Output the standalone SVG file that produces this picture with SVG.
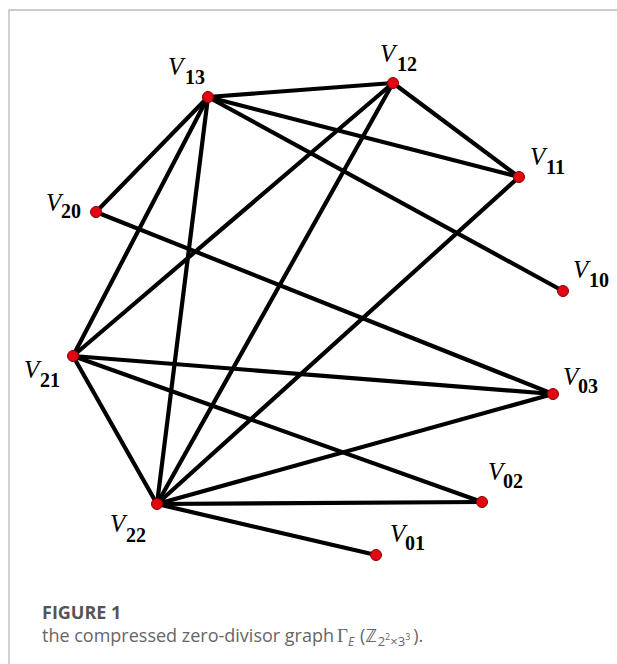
<svg xmlns="http://www.w3.org/2000/svg" width="617" height="664" viewBox="0 0 617 664">
<style>
.edge{stroke:#000;stroke-width:4.2;stroke-linecap:round;fill:none}
.node{fill:#e30613;stroke:#8a0000;stroke-width:1}
.v{font-family:"Liberation Serif","DejaVu Serif",serif;font-style:italic;font-size:25px;fill:#000}
.s{font-family:"Liberation Serif","DejaVu Serif",serif;font-weight:bold;font-style:normal;font-size:20px;fill:#000}
.cap{font-family:"Open Sans","Noto Sans",sans-serif;font-size:18px;fill:#666}
.capb{font-family:"Open Sans","Noto Sans",sans-serif;font-size:18px;font-weight:bold;fill:#555}
</style>
<rect width="617" height="664" fill="#fff"/>
<path d="M9 664 V10 H617" fill="none" stroke="#bbb" stroke-width="1.3"/>
<g id="edges">
<line class="edge" x1="208" y1="97" x2="393" y2="83"/>
<line class="edge" x1="208" y1="97" x2="519" y2="177"/>
<line class="edge" x1="208" y1="97" x2="563" y2="291"/>
<line class="edge" x1="208" y1="97" x2="96" y2="212"/>
<line class="edge" x1="208" y1="97" x2="73" y2="356"/>
<line class="edge" x1="208" y1="97" x2="157" y2="504"/>
<line class="edge" x1="393" y1="83" x2="519" y2="177"/>
<line class="edge" x1="393" y1="83" x2="73" y2="356"/>
<line class="edge" x1="393" y1="83" x2="157" y2="504"/>
<line class="edge" x1="519" y1="177" x2="157" y2="504"/>
<line class="edge" x1="96" y1="212" x2="553" y2="394"/>
<line class="edge" x1="73" y1="356" x2="553" y2="394"/>
<line class="edge" x1="73" y1="356" x2="482" y2="502"/>
<line class="edge" x1="73" y1="356" x2="157" y2="504"/>
<line class="edge" x1="157" y1="504" x2="553" y2="394"/>
<line class="edge" x1="157" y1="504" x2="482" y2="502"/>
<line class="edge" x1="157" y1="504" x2="376" y2="555"/>
</g>
<g id="V13"><circle class="node" cx="208" cy="97" r="5.5"/><text><tspan class="v" x="168" y="75">V</tspan><tspan class="s" x="185" y="84">13</tspan></text></g>
<g id="V12"><circle class="node" cx="393" cy="83" r="5.5"/><text><tspan class="v" x="380" y="62">V</tspan><tspan class="s" x="397" y="71">12</tspan></text></g>
<g id="V11"><circle class="node" cx="519" cy="177" r="5.5"/><text><tspan class="v" x="530" y="165">V</tspan><tspan class="s" x="546" y="174">11</tspan></text></g>
<g id="V10"><circle class="node" cx="563" cy="291" r="5.5"/><text><tspan class="v" x="573" y="278">V</tspan><tspan class="s" x="589" y="287">10</tspan></text></g>
<g id="V20"><circle class="node" cx="96" cy="212" r="5.5"/><text><tspan class="v" x="46" y="211">V</tspan><tspan class="s" x="61" y="218">20</tspan></text></g>
<g id="V21"><circle class="node" cx="73" cy="356" r="5.5"/><text><tspan class="v" x="24" y="378">V</tspan><tspan class="s" x="40" y="387">21</tspan></text></g>
<g id="V03"><circle class="node" cx="553" cy="394" r="5.5"/><text><tspan class="v" x="563" y="385">V</tspan><tspan class="s" x="578" y="393">03</tspan></text></g>
<g id="V02"><circle class="node" cx="482" cy="502" r="5.5"/><text><tspan class="v" x="488" y="480">V</tspan><tspan class="s" x="503" y="488">02</tspan></text></g>
<g id="V22"><circle class="node" cx="157" cy="504" r="5.5"/><text><tspan class="v" x="110" y="532">V</tspan><tspan class="s" x="126" y="542">22</tspan></text></g>
<g id="V01"><circle class="node" cx="376" cy="555" r="5.5"/><text><tspan class="v" x="390" y="542">V</tspan><tspan class="s" x="405" y="550">01</tspan></text></g>
<g id="caption">
<text class="cap" x="42" y="619"><tspan class="capb">FIGURE 1</tspan></text>
<text class="cap" x="42" y="642">the compressed zero-divisor graph<tspan x="337" font-family="'Liberation Serif',serif" font-size="19">Γ</tspan><tspan x="348" y="646" font-style="italic" font-size="12">E</tspan><tspan x="360" y="642">(ℤ</tspan><tspan y="646" dx="1" font-size="13">2</tspan><tspan font-size="9" y="640">2</tspan><tspan font-size="13" y="646">×3</tspan><tspan font-size="9" y="640">3</tspan><tspan y="642" dx="3">).</tspan></text>
</g>
</svg>
